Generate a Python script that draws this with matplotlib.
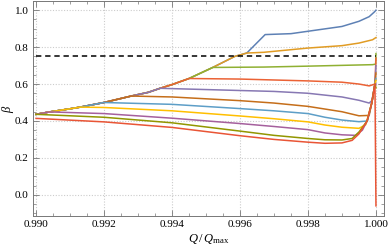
import matplotlib
matplotlib.use("Agg")
import matplotlib.pyplot as plt
from matplotlib.ticker import MultipleLocator, FormatStrFormatter

plt.rcParams['font.family'] = 'Liberation Serif'
plt.rcParams['mathtext.fontset'] = 'custom'
plt.rcParams['mathtext.it'] = 'Liberation Serif:italic'
plt.rcParams['mathtext.rm'] = 'Liberation Serif'
plt.rcParams['font.size'] = 8

# common rising envelope the curves start on
env_x = [0.990, 0.9904, 0.991, 0.9913, 0.992, 0.9928, 0.9933, 0.99365, 0.994,
         0.9945, 0.9952, 0.99585, 0.9962, 0.99674]
env_y = [0.436, 0.449, 0.466, 0.475, 0.500, 0.535, 0.555, 0.577, 0.597,
         0.630, 0.690, 0.750, 0.768, 0.868]

colors = ['#5E81B5', '#E19C24', '#8FB032', '#EB6235', '#8778B3', '#C56E1A',
          '#5D9EC7', '#FFBF00', '#A5609D', '#929600', '#E95536']

# Q/Qmax where each curve leaves the envelope (None = own start)
branch_x = [0.99674, 0.9962, 0.9952, 0.9945, 0.99365, 0.9928, 0.992, 0.9913, 0.9904, 0.990, None]

# own part of each curve after leaving the envelope
tail_x = [
    [0.9975, 0.998, 0.999, 0.9995, 0.9998, 0.99995, 1.0],
    [0.9967, 0.998, 0.999, 0.9995, 0.9999, 1.0],
    [0.9967, 0.998, 0.9999, 0.99999, 1.0],
    [0.996, 0.998, 0.999, 0.9995, 0.9998, 0.99997, 1.0],
    [0.996, 0.997, 0.998, 0.999, 0.9995, 0.9998, 0.99988, 0.99997, 1.0],
    [0.994, 0.996, 0.997, 0.998, 0.999, 0.9995, 0.9998, 0.99988, 0.99997, 1.0],
    [0.994, 0.996, 0.997, 0.998, 0.9985, 0.999, 0.9995, 0.99975, 0.99988, 0.99997, 1.0],
    [0.992, 0.994, 0.996, 0.997, 0.998, 0.9985, 0.999, 0.9995, 0.9997, 0.99988, 0.99997, 1.0],
    [0.992, 0.994, 0.996, 0.997, 0.998, 0.9985, 0.999, 0.9994, 0.9996, 0.99974, 0.99988, 0.99997, 1.0],
    [0.992, 0.994, 0.996, 0.997, 0.998, 0.9985, 0.999, 0.9993, 0.9995, 0.99974, 0.99988, 0.99997, 1.0],
    [0.990, 0.992, 0.994, 0.996, 0.997, 0.998, 0.9985, 0.999, 0.9993, 0.9995, 0.99974, 0.99988, 0.99997, 1.0],
]
tail_y = [
    [0.873, 0.886, 0.912, 0.940, 0.965, 0.990, 1.000],
    [0.772, 0.795, 0.808, 0.822, 0.840, 0.852],
    [0.692, 0.697, 0.705, 0.708, 0.765],
    [0.627, 0.617, 0.610, 0.600, 0.590, 0.600, 0.740],
    [0.565, 0.560, 0.550, 0.530, 0.512, 0.497, 0.510, 0.600, 0.700],
    [0.530, 0.510, 0.497, 0.479, 0.450, 0.428, 0.430, 0.500, 0.600, 0.660],
    [0.490, 0.467, 0.455, 0.440, 0.420, 0.405, 0.396, 0.400, 0.500, 0.600, 0.630],
    [0.473, 0.455, 0.427, 0.412, 0.395, 0.378, 0.366, 0.360, 0.380, 0.500, 0.600, 0.620],
    [0.440, 0.415, 0.386, 0.370, 0.353, 0.335, 0.325, 0.322, 0.350, 0.400, 0.500, 0.600, 0.600],
    [0.420, 0.390, 0.345, 0.322, 0.305, 0.298, 0.297, 0.305, 0.340, 0.400, 0.500, 0.600, 0.580],
    [0.414, 0.395, 0.365, 0.320, 0.300, 0.285, 0.279, 0.281, 0.295, 0.330, 0.400, 0.500, 0.600, -0.060],
]

threshold = 0.75

fig = plt.figure(figsize=(3.88, 2.48), dpi=100)
ax = fig.add_axes([0.085, 0.129, 0.905, 0.867])

for i in range(len(colors)):
    bx = branch_x[i]
    if bx is not None:
        n = sum(1 for x in env_x if x <= bx + 1e-9)
        xs = env_x[:n] + tail_x[i]
        ys = env_y[:n] + tail_y[i]
    else:
        xs = tail_x[i]
        ys = tail_y[i]
    ax.plot(xs, ys, color=colors[i], lw=1.1, solid_joinstyle='round')

ax.plot([0.990, 1.000], [threshold, threshold], color='black', lw=1.1, ls=(0, (3.5, 2.5)))

ax.set_xlim(0.98991, 1.00024)
ax.set_ylim(-0.115, 1.05)

ax.xaxis.set_major_locator(MultipleLocator(0.002))
ax.xaxis.set_minor_locator(MultipleLocator(0.0005))
ax.yaxis.set_major_locator(MultipleLocator(0.2))
ax.yaxis.set_minor_locator(MultipleLocator(0.05))
ax.xaxis.set_major_formatter(FormatStrFormatter('%.3f'))
ax.yaxis.set_major_formatter(FormatStrFormatter('%.1f'))

ax.tick_params(which='both', direction='in', top=True, right=True, color='#777777')
ax.tick_params(which='major', length=4, width=0.6, labelsize=8, pad=3)
ax.tick_params(which='minor', length=2, width=0.5)
for s in ax.spines.values():
    s.set_color('#777777')
    s.set_linewidth(0.7)

ax.grid(True, which='major', color='#cccccc', ls=(0, (1, 1.5)), lw=0.8)
ax.set_axisbelow(True)

ax.set_xlabel(r'$Q\,/\,Q_{\rm max}$', fontsize=9, labelpad=2)
ax.set_ylabel(r'$\beta$', fontsize=9, labelpad=-1)

fig.savefig('out.png', dpi=100)
